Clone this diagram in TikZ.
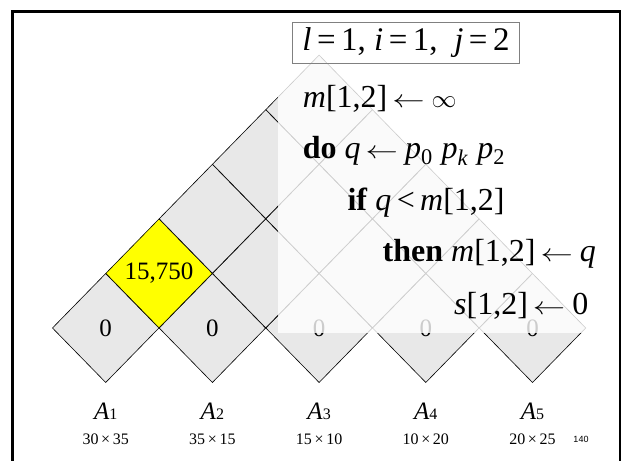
\documentclass[tikz,border=0pt]{standalone}
\usepackage{fontspec}
\setmainfont{Liberation Serif}
\newfontfamily\pagefont{Liberation Sans}
\usepackage{graphicx}
\usepackage{tikz}
\usetikzlibrary{shapes.geometric}
\definecolor{cellgray}{HTML}{E8E8E8}
\definecolor{hiyellow}{HTML}{FFFF00}
\newcommand{\getsarrow}{\hspace{5pt}\scalebox{1.3}[1]{$\leftarrow$}\hspace{7pt}}

\begin{document}
\begin{tikzpicture}[x=1pt,y=-1pt,
        cell/.style={draw,shape=diamond,fill=cellgray,line width=0.6pt,
                     minimum width=106.7pt,minimum height=109.2pt,inner sep=0pt,
                     font=\fontsize{25}{25}\selectfont},
        code/.style={anchor=base west,inner sep=0pt,font=\fontsize{32}{38}\selectfont},
        mat/.style={anchor=base,inner sep=0pt,font=\fontsize{25}{25}\selectfont},
        dim/.style={anchor=base,inner sep=0pt,font=\fontsize{16}{16}\selectfont}]
      \useasboundingbox (0,0) rectangle (622,461);
      % frame
      \draw[line width=2.6pt] (12.5,11.5) rectangle (620,480);
      % row 0
      \node[cell] (c11) at (105.7,328) {0};
      \node[cell] (c22) at (212.4,328) {0};
      \node[cell] (c33) at (319.1,328) {0};
      \node[cell] (c44) at (425.8,328) {0};
      \node[cell] (c55) at (532.5,328) {0};
      % row 1
      \node[cell,fill=hiyellow] (c12) at (159.05,273.4) {15,750};
      \node[cell] (c23) at (265.75,273.4) {};
      \node[cell] (c34) at (372.45,273.4) {};
      \node[cell] (c45) at (479.15,273.4) {};
      % row 2
      \node[cell] (c13) at (212.4,218.8) {};
      \node[cell] (c24) at (319.1,218.8) {};
      \node[cell] (c35) at (425.8,218.8) {};
      % row 3
      \node[cell] (c14) at (265.75,164.2) {};
      \node[cell] (c25) at (372.45,164.2) {};
      % row 4
      \node[cell] (c15) at (319.1,109.6) {};
      % veil
      \fill[white,opacity=0.8] (278,50) rectangle (587,333.3);
      % loop state
      \node[draw=gray,line width=0.8pt,minimum width=226.6pt,minimum height=40.6pt,
            inner sep=0pt,font=\fontsize{33}{38}\selectfont] (state) at (406,43)
            {\textit{l}\,=\,1, \textit{i}\,=\,1, \ \textit{j}\,=\,2};
      % pseudo code
      \node[code] (ln1) at (302.7,107) {\textit{m}[1,2]\getsarrow$\infty$};
      \node[code] (ln2) at (302.7,158.5) {\textbf{do} \textit{q}\getsarrow\textit{p}\textsubscript{0}\;\textit{p}\textsubscript{\textit{k}}\;\textit{p}\textsubscript{2}};
      \node[code] (ln3) at (347.4,210) {\textbf{if} \textit{q}\,<\,\textit{m}[1,2]};
      \node[code] (ln4) at (382.5,261.5) {\textbf{then} \textit{m}[1,2]\getsarrow\textit{q}};
      \node[code] (ln5) at (454,314) {\textit{s}[1,2]\getsarrow0};
      % matrices
      \node[mat] (A1) at (105.7,419.3) {\textit{A}{\fontsize{16}{16}\selectfont 1}};
      \node[mat] (A2) at (212.4,419.3) {\textit{A}{\fontsize{16}{16}\selectfont 2}};
      \node[mat] (A3) at (319.1,419.3) {\textit{A}{\fontsize{16}{16}\selectfont 3}};
      \node[mat] (A4) at (425.8,419.3) {\textit{A}{\fontsize{16}{16}\selectfont 4}};
      \node[mat] (A5) at (532.5,419.3) {\textit{A}{\fontsize{16}{16}\selectfont 5}};
      \node[dim] (d1) at (105.7,444.3) {30\,×\,35};
      \node[dim] (d2) at (212.4,444.3) {35\,×\,15};
      \node[dim] (d3) at (319.1,444.3) {15\,×\,10};
      \node[dim] (d4) at (425.8,444.3) {10\,×\,20};
      \node[dim] (d5) at (532.5,444.3) {20\,×\,25};
      \node[anchor=base,inner sep=0pt,font=\pagefont\fontsize{9}{10}\selectfont] (pg) at (581,442.3) {140};
    \end{tikzpicture}
\end{document}
